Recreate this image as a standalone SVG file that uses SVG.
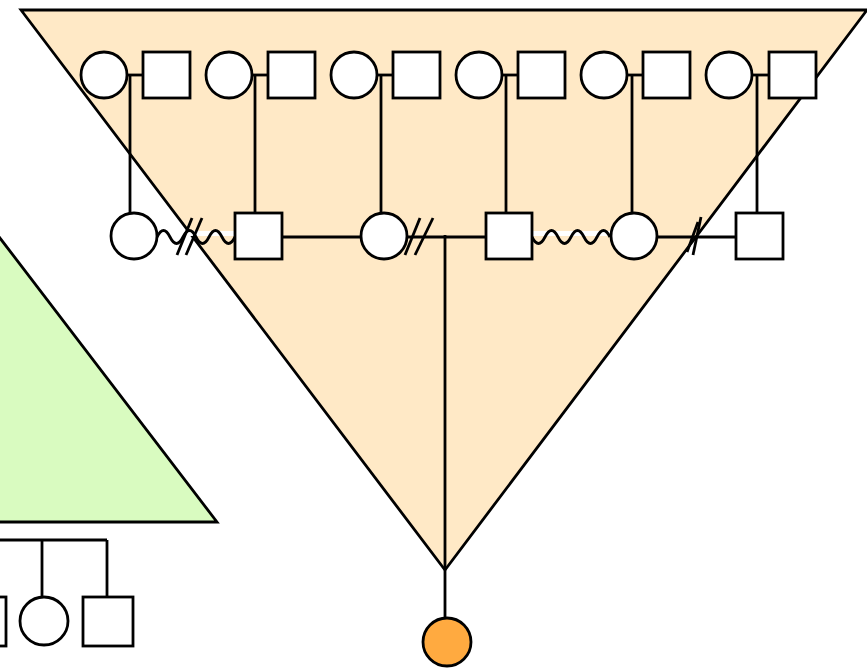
<svg xmlns="http://www.w3.org/2000/svg" width="867" height="668" viewBox="0 0 867 668">
<style>
.ln{stroke:#000;stroke-width:2.8;fill:none}
.nd{stroke:#000;stroke-width:2.8;fill:#fff}
.wv{stroke:#000;stroke-width:2.8;fill:none}
</style>
<rect width="867" height="668" fill="#fff"/>
<g id="triangle-ancestors">
<polygon points="21,10 867,10 445,570" fill="#FFE9C6" stroke="#000" stroke-width="2.8"/>
</g>
<g id="triangle-left">
<polygon points="217,522 -10,522 -10,225" fill="#D9FBC0" stroke="#000" stroke-width="2.8"/>
</g>
<g id="connectors">
<line class="ln" x1="127" y1="75" x2="143" y2="75"/>
<line class="ln" x1="252" y1="75" x2="268" y2="75"/>
<line class="ln" x1="377" y1="75" x2="393" y2="75"/>
<line class="ln" x1="502" y1="75" x2="518" y2="75"/>
<line class="ln" x1="627" y1="75" x2="643" y2="75"/>
<line class="ln" x1="752" y1="75" x2="769" y2="75"/>
<line class="ln" x1="130" y1="75" x2="130" y2="213"/>
<line class="ln" x1="255" y1="75" x2="255" y2="213"/>
<line class="ln" x1="381" y1="75" x2="381" y2="213"/>
<line class="ln" x1="506" y1="75" x2="506" y2="213"/>
<line class="ln" x1="632" y1="75" x2="632" y2="213"/>
<line class="ln" x1="757" y1="75" x2="757" y2="213"/>
<rect x="157" y="231" width="78" height="5" fill="#fff"/>
<path class="wv" d="M157,237 q6.5,-13 13,0 t13,0 t13,0 t13,0 t13,0 t13,0"/>
<line class="ln" x1="177" y1="255" x2="192" y2="218"/>
<line class="ln" x1="186" y1="255" x2="202" y2="218"/>
<line class="ln" x1="282" y1="237" x2="361" y2="237"/>
<line class="ln" x1="407" y1="237" x2="486" y2="237"/>
<line class="ln" x1="405" y1="255" x2="420" y2="218"/>
<line class="ln" x1="415" y1="255" x2="433" y2="218"/>
<rect x="532" y="231" width="79" height="5" fill="#fff"/>
<path class="wv" d="M532,237 q6.5,13 13,0 t13,0 t13,0 t13,0 t13,0 t13,0"/>
<line class="ln" x1="657" y1="237" x2="736" y2="237"/>
<line class="ln" x1="693" y1="255" x2="701" y2="217"/>
<line class="ln" x1="687" y1="252" x2="698" y2="222"/>
<line class="ln" x1="445" y1="235" x2="445" y2="618"/>
<line class="ln" x1="-5" y1="540" x2="107" y2="540"/>
<line class="ln" x1="42" y1="540" x2="42" y2="597"/>
<line class="ln" x1="107" y1="540" x2="107" y2="597"/>
</g>
<g id="top-row">
<g id="f1"><circle class="nd" cx="104" cy="75" r="23"/></g>
<g id="m1"><rect class="nd" x="143" y="52" width="47" height="46"/></g>
<g id="f2"><circle class="nd" cx="229" cy="75" r="23"/></g>
<g id="m2"><rect class="nd" x="268" y="52" width="47" height="46"/></g>
<g id="f3"><circle class="nd" cx="354" cy="75" r="23"/></g>
<g id="m3"><rect class="nd" x="393" y="52" width="47" height="46"/></g>
<g id="f4"><circle class="nd" cx="479" cy="75" r="23"/></g>
<g id="m4"><rect class="nd" x="518" y="52" width="47" height="46"/></g>
<g id="f5"><circle class="nd" cx="604" cy="75" r="23"/></g>
<g id="m5"><rect class="nd" x="643" y="52" width="47" height="46"/></g>
<g id="f6"><circle class="nd" cx="729" cy="75" r="23"/></g>
<g id="m6"><rect class="nd" x="769" y="52" width="47" height="46"/></g>
</g>
<g id="second-row">
<g id="c1"><circle class="nd" cx="134" cy="236" r="23"/></g>
<g id="s1"><rect class="nd" x="235" y="213" width="47" height="46"/></g>
<g id="c2"><circle class="nd" cx="384" cy="236" r="23"/></g>
<g id="s2"><rect class="nd" x="486" y="213" width="46" height="46"/></g>
<g id="c3"><circle class="nd" cx="634" cy="236" r="23"/></g>
<g id="s3"><rect class="nd" x="736" y="213" width="47" height="46"/></g>
</g>
<g id="proband"><circle cx="447" cy="642" r="24" fill="#FFAA40" stroke="#000" stroke-width="2.8"/></g>
<g id="bottom-left">
<g id="bl-square-partial"><rect class="nd" x="-44" y="597" width="50" height="49"/></g>
<g id="bl-circle"><circle class="nd" cx="44" cy="621" r="24"/></g>
<g id="bl-square"><rect class="nd" x="83" y="597" width="50" height="49"/></g>
</g>
</svg>
